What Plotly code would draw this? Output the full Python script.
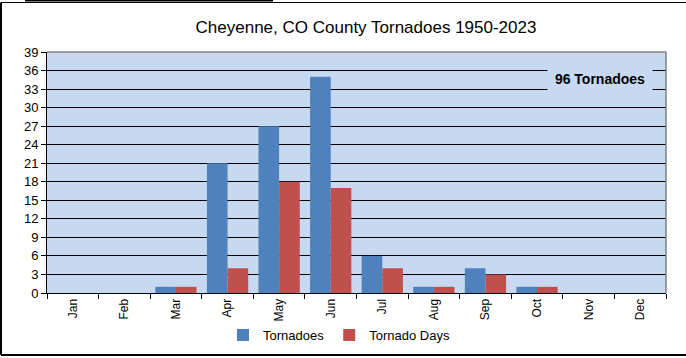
import plotly.graph_objects as go

months = ["Jan", "Feb", "Mar", "Apr", "May", "Jun", "Jul", "Aug", "Sep", "Oct", "Nov", "Dec"]
tornadoes = [0, 0, 1, 21, 27, 35, 6, 1, 4, 1, 0, 0]
tornado_days = [0, 0, 1, 4, 18, 17, 4, 1, 3, 1, 0, 0]
y_ticks = list(range(0, 40, 3))
title_text = "Cheyenne, CO County Tornadoes 1950-2023"
note_text = "96 Tornadoes"

W, H = 686, 358
L, R, T, B = 47, 20, 52, 65
PW, PH = W - L - R, H - T - B

def px(x):
    return (x - L) / PW

def py(y):
    return (H - B - y) / PH

FONT = "Liberation Sans, Arial, sans-serif"
BG = "#C6D9F1"

fig = go.Figure()
fig.add_trace(go.Bar(x=months, y=tornadoes, name="Tornadoes", marker=dict(color="#4F81BD", line=dict(width=0))))
fig.add_trace(go.Bar(x=months, y=tornado_days, name="Tornado Days", marker=dict(color="#C0504D", line=dict(width=0))))

fig.update_layout(
    width=W, height=H,
    margin=dict(l=L, r=R, t=T, b=B, autoexpand=False),
    paper_bgcolor="white",
    plot_bgcolor=BG,
    barmode="group",
    bargap=0.2, bargroupgap=0,
    font=dict(family=FONT, color="black", size=12),
    title=dict(text=title_text, x=(366) / W, xanchor="center", y=1 - 27 / H, yanchor="middle",
               yref="container", font=dict(size=17, family=FONT, color="black")),
    legend=dict(orientation="h", x=px(339), xanchor="center", y=py(335), yanchor="middle",
                font=dict(size=13, family=FONT), bgcolor="rgba(0,0,0,0)", itemwidth=30),
    xaxis=dict(showline=True, linecolor="black", linewidth=1, ticks="outside", ticklen=5,
               tickcolor="black", tickson="boundaries", tickangle=-90, showgrid=False,
               automargin=False, tickfont=dict(size=12, family=FONT)),
    yaxis=dict(range=[0, 39], tickvals=y_ticks, showline=True, linecolor="black", linewidth=1,
               ticks="outside", ticklen=5, tickcolor="black", showgrid=True, gridcolor="black",
               gridwidth=1, zeroline=False, automargin=False, tickfont=dict(size=13, family=FONT)),
    showlegend=True,
)

shapes = [
    # plot border top and right (gray)
    dict(type="line", xref="paper", yref="paper", x0=0, x1=1, y0=1, y1=1, line=dict(color="#808080", width=1.5)),
    dict(type="line", xref="paper", yref="paper", x0=1, x1=1, y0=0, y1=1, line=dict(color="#808080", width=1.5)),
    # outer frame
    dict(type="line", xref="paper", yref="paper", x0=px(1), x1=px(1), y0=py(2.5), y1=py(355), line=dict(color="black", width=2)),
    dict(type="line", xref="paper", yref="paper", x0=px(1), x1=px(690), y0=py(355), y1=py(355), line=dict(color="black", width=2)),
    dict(type="line", xref="paper", yref="paper", x0=px(1), x1=px(690), y0=py(2.5), y1=py(2.5), line=dict(color="black", width=1)),
    dict(type="line", xref="paper", yref="paper", x0=px(25), x1=px(273), y0=py(0.5), y1=py(0.5), line=dict(color="black", width=2)),
]
fig.update_layout(shapes=shapes)

fig.add_annotation(text="<b>" + note_text + "</b>", xref="paper", yref="paper",
                   x=px(600), y=py(79), xanchor="center", yanchor="middle", showarrow=False,
                   font=dict(size=14, family=FONT, color="black"),
                   bgcolor=BG, width=104, height=22, borderpad=0)

fig.write_html("out.html", config={"displayModeBar": False},
               post_script="document.body.style.margin='0px';document.body.style.padding='0px';")
